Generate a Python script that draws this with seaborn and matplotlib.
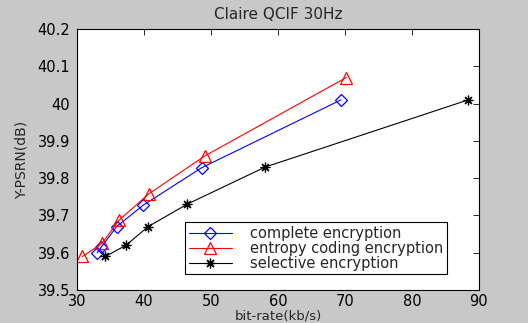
import matplotlib
matplotlib.use("Agg")
import matplotlib.pyplot as plt
import seaborn as sns
import pandas as pd

sns.set_style("white")
plt.rcParams['font.family'] = ['DejaVu Sans']

complete_x = [33.0, 33.6, 35.9, 39.9, 48.6, 69.4]
complete_y = [39.600, 39.615, 39.670, 39.728, 39.828, 40.010]
entropy_x = [30.8, 33.7, 36.3, 40.7, 49.1, 70.2]
entropy_y = [39.590, 39.625, 39.688, 39.758, 39.860, 40.070]
selective_x = [34.2, 37.3, 40.6, 46.4, 58.1, 88.4]
selective_y = [39.590, 39.620, 39.670, 39.730, 39.830, 40.010]

labels = ["complete encryption", "entropy coding encryption", "selective encryption"]
xticks = [30, 40, 50, 60, 70, 80, 90]
yticks = [39.5, 39.6, 39.7, 39.8, 39.9, 40.0, 40.1, 40.2]
ytick_labels = ["39.5", "39.6", "39.7", "39.8", "39.9", "40", "40.1", "40.2"]

fig = plt.figure(figsize=(5.28, 3.23), dpi=100)
fig.patch.set_facecolor("#c8c8c8")
ax = fig.add_axes([0.146, 0.102, 0.761, 0.808])
ax.set_facecolor("white")

asterisk = (8, 2, 0)
series = [
    (complete_x, complete_y, labels[0], "#0000ff", "D", 6),
    (entropy_x, entropy_y, labels[1], "#ff0000", "^", 9),
    (selective_x, selective_y, labels[2], "#000000", asterisk, 7),
]
for xs, ys, lab, col, mk, ms in series:
    df = pd.DataFrame({"x": xs, "y": ys})
    sns.lineplot(data=df, x="x", y="y", ax=ax, sort=False, color=col, linewidth=0.8,
                 marker=mk, markersize=ms, markerfacecolor="none", markeredgecolor=col,
                 markeredgewidth=0.9, label=lab)

ax.set_xlim(30, 90)
ax.set_ylim(39.5, 40.2)
ax.set_xticks(xticks)
ax.set_yticks(yticks)
ax.set_yticklabels(ytick_labels)
ax.tick_params(direction="in", length=4, width=0.6, top=True, right=True,
               labelsize=10.5, colors="black")
ax.tick_params(axis="x", pad=3)
ax.tick_params(axis="y", pad=5)
for s in ax.spines.values():
    s.set_visible(True)
    s.set_color("black")
    s.set_linewidth(0.8)
ax.set_title("Claire QCIF 30Hz", fontsize=11, pad=7)
ax.set_xlabel("bit-rate(kb/s)", fontsize=9.5, labelpad=0)
ax.set_ylabel("Y-PSRN(dB)", fontsize=10, labelpad=6)

leg = ax.legend(loc="lower right", bbox_to_anchor=(0.92, 0.06), fontsize=10.5, frameon=True,
                fancybox=False, edgecolor="black", framealpha=1, borderpad=0.25,
                labelspacing=0.0, handlelength=3.0, handletextpad=1.2, borderaxespad=0)
leg.get_frame().set_linewidth(0.8)

fig.savefig("out.png", dpi=100, facecolor=fig.get_facecolor())
